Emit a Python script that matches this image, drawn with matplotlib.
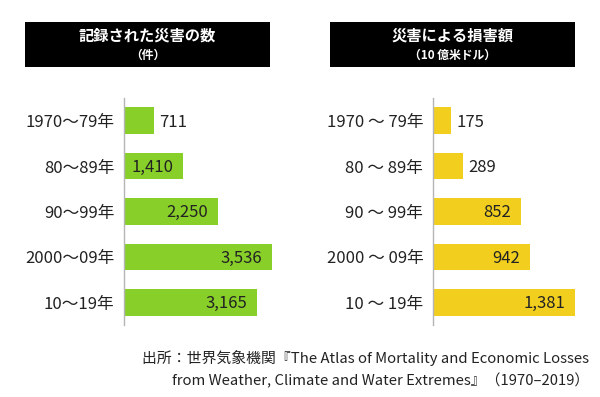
import matplotlib
matplotlib.use("Agg")
import matplotlib.pyplot as plt
from matplotlib.patches import Rectangle

plt.rcParams['font.family'] = ['Noto Sans CJK JP', 'DejaVu Sans']

# データ
left_cats = ['1970～79年', '80～89年', '90～99年', '2000～09年', '10～19年']
right_cats = ['1970 ～ 79年', '80 ～ 89年', '90 ～ 99年', '2000 ～ 09年', '10 ～ 19年']
disasters = [711, 1410, 2250, 3536, 3165]
losses = [175, 289, 852, 942, 1381]

left_title = '記録された災害の数'
left_sub = '（件）'
right_title = '災害による損害額'
right_sub = '（10 億米ドル）'
source = ['出所：世界気象機関『The Atlas of Mortality and Economic Losses',
          'from Weather, Climate and Water Extremes』（1970–2019）']

W, H = 600, 397
fig = plt.figure(figsize=(W / 100, H / 100), dpi=100, facecolor='white')


def px_axes(x0, y0, x1, y1):
    # ピクセル座標（上が0）から axes を作る
    return fig.add_axes([x0 / W, 1 - y1 / H, (x1 - x0) / W, (y1 - y0) / H])


def panel(ax, cats, vals, color, xmax, inside_min):
    ax.barh(range(len(vals)), vals, height=0.585, color=color, edgecolor='none')
    ax.set_ylim(4.5, -0.5)
    ax.set_xlim(0, xmax)
    ax.set_yticks(range(len(cats)))
    ax.set_yticklabels(cats, fontsize=12, color='#222222')
    ax.tick_params(axis='y', length=0, pad=7)
    ax.set_xticks([])
    for s in ['top', 'right', 'bottom']:
        ax.spines[s].set_visible(False)
    ax.spines['left'].set_color('#b5b5b5')
    ax.spines['left'].set_linewidth(1.0)
    ax.patch.set_alpha(0)
    for i, v in enumerate(vals):
        txt = f'{v:,}'
        if v >= inside_min:
            ax.annotate(txt, (v, i), xytext=(-7, -1), textcoords='offset points',
                        ha='right', va='center', fontsize=12, color='#222222')
        else:
            ax.annotate(txt, (v, i), xytext=(4, -1), textcoords='offset points',
                        ha='left', va='center', fontsize=12, color='#222222')


ax1 = px_axes(124, 98, 274, 325)
panel(ax1, left_cats, disasters, '#88cf2a', 150 / 0.0419, 1000)

ax2 = px_axes(433, 98, 578, 325)
panel(ax2, right_cats, losses, '#f2cf1f', 145 / 0.1028, 500)

# タイトルの黒いボックス
for x0, x1, t, sub in [(25, 270, left_title, left_sub), (330, 575, right_title, right_sub)]:
    fig.add_artist(Rectangle((x0 / W, 1 - 67 / H), (x1 - x0) / W, 45 / H,
                             transform=fig.transFigure, facecolor='black',
                             edgecolor='none'))
    cx = (x0 + x1) / 2 / W
    fig.text(cx, 1 - 36 / H, t, ha='center', va='center', color='white',
             fontsize=11, fontweight='bold')
    fig.text(cx, 1 - 55 / H, sub, ha='center', va='center', color='white',
             fontsize=8.5, fontweight='bold')

# 出所
fig.text(589 / W, 1 - 358 / H, source[0], ha='right', va='center',
         fontsize=10.7, color='#222222')
fig.text(589 / W, 1 - 381 / H, source[1], ha='right', va='center',
         fontsize=10.7, color='#222222')

fig.savefig('out.png', dpi=100, facecolor='white')
